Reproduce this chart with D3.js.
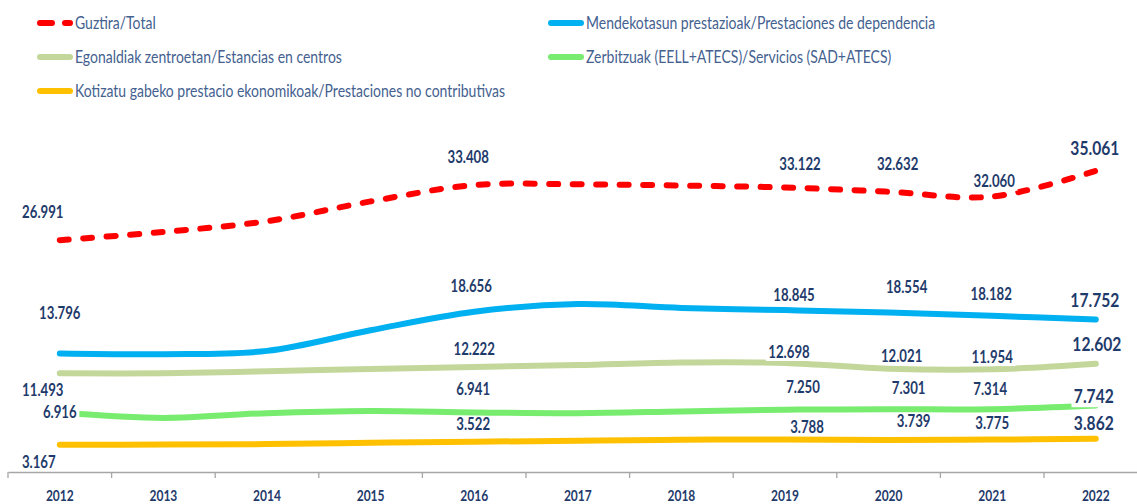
<!DOCTYPE html>
<html>
<head>
<meta charset="utf-8">
<script src="https://cdn.jsdelivr.net/npm/d3@7"></script>
<style>
  body { margin: 0; background: #fff; }
  svg { display: block; }
  text { font-family: Lato, "Liberation Sans", sans-serif; }
</style>
</head>
<body>
<div id="area"></div>
<script>
// data
const years = [2012, 2013, 2014, 2015, 2016, 2017, 2018, 2019, 2020, 2021, 2022];
const total = [26991, 27950, 29200, 31500, 33408, 33490, 33350, 33122, 32632, 32060, 35061];
const dependencia = [13796, 13720, 14100, 16500, 18656, 19550, 19100, 18845, 18554, 18182, 17752];
const estancias = [11493, 11500, 11720, 12000, 12222, 12450, 12750, 12698, 12021, 11954, 12602];
const servicios = [6916, 6300, 6850, 7100, 6941, 6850, 7050, 7250, 7301, 7314, 7742];
const noContributivas = [3167, 3200, 3250, 3400, 3522, 3650, 3750, 3788, 3739, 3775, 3862];

const seriesNames = [
    'Guztira/Total',
    'Mendekotasun prestazioak/Prestaciones de dependencia',
    'Egonaldiak zentroetan/Estancias en centros',
    'Zerbitzuak (EELL+ATECS)/Servicios (SAD+ATECS)',
    'Kotizatu gabeko prestacio ekonomikoak/Prestaciones no contributivas'
];
const seriesValues = [total, dependencia, estancias, servicios, noContributivas];
const labelledYears = [2012, 2016, 2019, 2020, 2021, 2022];

// styles
const colors = ['#FF0000', '#00B0F0', '#C4D79B', '#77EC6E', '#FFC000'];
const label_color = '#1F3B6B',
    legend_color = '#44618F',
    axis_color = '#A6A6A6',
    squeeze = 0.8; // text is narrow in the original

// label offsets (dx, dy) from the point, per series, per labelled year
const labelOffsets = [
    [[-17, -28], [-6, -28], [15, -23.5], [9, -27], [2, -15], [-1, -23]],
    [[0, -40.5], [-3, -26], [9, -15], [18, -25.6], [-1, -22], [-1, -19.5]],
    [[-17, 16.7], [0, -18], [4, -11], [13, -12.7], [0, -12.3], [1, -19.7]],
    [[0, 0], [-1, -23], [18, -22.7], [20, -21], [-2, -20], [-2, -9]],
    [[-21, 17], [-1, -18], [22, -12.5], [25, -19], [0, -16.6], [-2, -16]]
];

const width = 1137, height = 504;
const fmt = d3.formatLocale({ decimal: ',', thousands: '.', grouping: [3], currency: ['', ''] }).format(',d');

const svg = d3.select('#area').append('svg')
    .attr('width', width)
    .attr('height', height);

const band = 103.6;
const x = d3.scaleBand().domain(years).range([8, 8 + band * years.length]).padding(0);
const y = d3.scaleLinear().domain([0, 40000]).range([472, 128.4]);
const cx = d => x(d) + x.bandwidth() / 2;

// x axis
const axis = svg.append('g').attr('transform', 'translate(0,472)')
    .call(d3.axisBottom(x).tickSize(0).tickPadding(18));
axis.select('.domain').attr('stroke', axis_color).attr('stroke-width', 1.3);
axis.selectAll('.tick text')
    .attr('fill', label_color)
    .attr('font-size', 15)
    .attr('font-weight', 'bold')
    .attr('font-family', 'Lato, "Liberation Sans", sans-serif')
    .attr('transform', 'scale(' + squeeze + ',1)');
axis.selectAll('.boundary')
    .data(years.map(d => x(d)).concat([x(years[years.length - 1]) + x.bandwidth()]))
    .enter().append('line')
    .attr('x1', d => d).attr('x2', d => d)
    .attr('y1', 0).attr('y2', 6)
    .attr('stroke', axis_color).attr('stroke-width', 1.3);

// lines
const line = d3.line()
    .x((d, i) => cx(years[i]))
    .y(d => y(d))
    .curve(d3.curveCatmullRom.alpha(0.5));

seriesValues.forEach((vals, s) => {
    const path = svg.append('path')
        .datum(vals)
        .attr('d', line)
        .attr('fill', 'none')
        .attr('stroke', colors[s])
        .attr('stroke-width', 6)
        .attr('stroke-linecap', 'round')
        .attr('stroke-linejoin', 'round');
    if (s === 0) path.attr('stroke-dasharray', '9,14.5');
});

// data labels with white boxes
seriesValues.forEach((vals, s) => {
    labelledYears.forEach((yr, k) => {
        const i = years.indexOf(yr);
        const off = labelOffsets[s][k];
        const last = yr === years[years.length - 1];
        const fs = last ? 19.5 : 16.5;
        const g = svg.append('g')
            .attr('transform', 'translate(' + (cx(yr) + off[0]) + ',' + (y(vals[i]) + off[1]) + ') scale(' + squeeze + ',1)');
        const box = g.append('rect').attr('fill', '#fff');
        const t = g.append('text')
            .text(fmt(vals[i]))
            .attr('text-anchor', 'middle')
            .attr('dy', '0.35em')
            .attr('fill', label_color)
            .attr('font-weight', 'bold')
            .attr('font-size', fs);
        const bb = t.node().getBBox();
        box.attr('x', bb.x - 3).attr('y', -0.45 * fs)
            .attr('width', bb.width + 6).attr('height', 1.0 * fs);
    });
});

// legend
const legendPos = [[40, 23], [551, 23], [40, 57], [551, 57], [40, 91]];
seriesNames.forEach((name, s) => {
    const g = svg.append('g')
        .attr('transform', 'translate(' + legendPos[s][0] + ',' + legendPos[s][1] + ')');
    const l = g.append('line')
        .attr('x1', 0).attr('x2', 30)
        .attr('stroke', colors[s])
        .attr('stroke-width', 6)
        .attr('stroke-linecap', 'round');
    if (s === 0) l.attr('stroke-dasharray', '12,13');
    g.append('text')
        .text(name)
        .attr('transform', 'translate(35,0) scale(' + squeeze + ',1)')
        .attr('dy', '0.35em')
        .attr('fill', legend_color)
        .attr('font-size', 17.5);
});
</script>
</body>
</html>
